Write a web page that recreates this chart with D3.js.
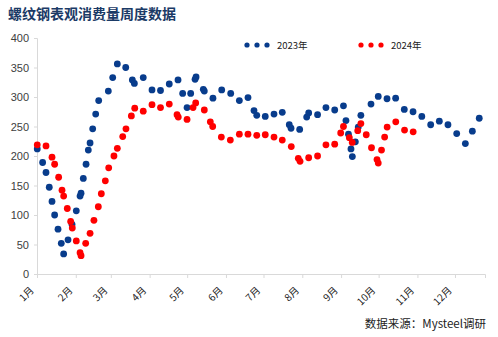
<!DOCTYPE html>
<html><head><meta charset="utf-8">
<script src="https://cdn.jsdelivr.net/npm/d3@7"></script>
<style>
body{margin:0;background:#fff;}
svg{display:block;}
</style></head>
<body>
<svg id="chart" width="498" height="337"></svg>
<script>
// ---- data (x = day offset from Jan 1, y = weekly apparent consumption, 万吨) ----
const title = "螺纹钢表观消费量周度数据";
const source = "数据来源：Mysteel调研";
const seriesNames = ["2023年", "2024年"];
const monthLabels = ["1月","2月","3月","4月","5月","6月","7月","8月","9月","10月","11月","12月"];
const yTicks = [0,50,100,150,200,250,300,350,400];

const day2023 = [0.2,4.5,7.2,9.8,12,14.1,16.8,19.4,21.3,24.8,28,31.4,34.4,35.2,37,39.2,41,42.4,44.5,46.9,
  49.3,57,60.5,64.2,70.9,76.2,77.8,84.9,91.9,98.7,105.7,112.7,116.4,119.9,122.8,126.3,127.1,132.9,133.7,140.6,
  147.6,154.8,161.7,168.6,173.4,175.6,182.4,189.4,196,201.6,203,209.9,215.5,217.1,224.2,230.9,237.9,244.9,246.9,248.9,
  250.9,252,254.4,256.7,258.8,266.9,272.7,279.7,286.6,293.5,300.5,307.5,314.6,321.5,328.4,335.4,342.3,347.9,353.4];
const val2023 = [212,189,172,147,123,100,76,52,34,58,84,107,132,137,162,186,210,222,246,271,
  294,310,333,356,350,329,323,333,312,311,322,329,306,282,306,330,334,313,310,298,
  312,306,294,299,277,269,267,271,274,253,247,245,266,273,270,282,278,285,260,237,
  212,199,224,249,269,288,301,297,298,279,275,267,253,259,253,238,221,242,264];

const day2024 = [0.2,7.2,12,14.1,17.3,20,21.3,24.2,26.9,28.2,31.4,34.4,35.2,38.9,42.4,45.5,49,51.4,54.6,57.3,
  61.5,64.2,68.5,71.1,75.4,78.1,84.9,91.9,98.7,105.7,111.9,112.9,119.9,124.7,126.8,133.7,138.5,140.4,147.3,154.5,
  161.7,168.6,175.6,182.4,189.4,196,203.2,208.8,210.2,217.1,224.2,230.9,237.9,242.7,244.9,249.6,251.9,256.3,258.8,263.1,
  267.3,271.7,272.7,275.3,277.8,279.8,286.7,293.7,300.6];
const val2024 = [219,217,198,186,164,142,132,111,89,78,56,36,31,52,69,91,114,136,158,180,
  200,213,233,246,268,281,276,287,282,288,270,266,262,282,290,278,258,250,232,227,
  237,237,235,236,232,227,216,196,191,197,200,219,220,239,250,231,223,243,255,236,
  214,194,188,210,232,249,258,244,241];

const colors = ["#083c8c", "#ff0000"];

// ---- layout ----
const svg = d3.select("#chart");
const mLeft = 37, mRight = 485, mTop = 38, mBottom = 274;
const base = new Date(2023, 0, 1);
const toDate = d => new Date(base.getTime() + d * 864e5);

const x = d3.scaleTime().domain([base, new Date(2023, 11, 25)]).range([mLeft, mRight]);
const y = d3.scaleLinear().domain([0, 400]).range([mBottom, mTop]);

// title
svg.append("text").attr("x", 8).attr("y", 19)
  .attr("font-family", "'Noto Sans CJK SC', sans-serif").attr("font-weight", "bold")
  .attr("font-size", 14).attr("fill", "#1b3a66").text(title);

// y axis
const yAxis = svg.append("g").attr("transform", `translate(${mLeft},0)`)
  .call(d3.axisLeft(y).tickValues(yTicks).tickSize(3).tickPadding(5));
yAxis.select(".domain").attr("stroke", "#d9d9d9");
yAxis.selectAll(".tick line").attr("stroke", "#d9d9d9");
yAxis.selectAll(".tick text").attr("font-family", "'Liberation Sans', Arial, sans-serif")
  .attr("font-size", 11).attr("fill", "#404040");

// x axis
const monthStarts = d3.timeMonth.range(base, new Date(2024, 0, 1));
const xAxis = svg.append("g").attr("transform", `translate(0,${mBottom})`)
  .call(d3.axisBottom(x).tickValues(monthStarts).tickSize(4).tickFormat((d, i) => monthLabels[i]));
xAxis.select(".domain").attr("stroke", "#d9d9d9");
xAxis.selectAll(".tick line").attr("stroke", "#d9d9d9");
xAxis.selectAll(".tick text")
  .attr("font-family", "'Noto Sans CJK SC', sans-serif").attr("font-size", 10).attr("fill", "#222")
  .attr("text-anchor", "end").attr("y", 0).attr("dy", 0)
  .attr("transform", "translate(-3,17) rotate(-45)");

// points
const series = [
  {days: day2023, vals: val2023, color: colors[0]},
  {days: day2024, vals: val2024, color: colors[1]}
];
series.forEach(s => {
  svg.append("g").selectAll("circle")
    .data(s.days.map((d, i) => [d, s.vals[i]]))
    .join("circle")
    .attr("cx", d => x(toDate(d[0])))
    .attr("cy", d => y(d[1]))
    .attr("r", 3.4)
    .attr("fill", s.color);
});

// legend
const legendX = [247, 361];
seriesNames.forEach((name, k) => {
  const g = svg.append("g").attr("transform", `translate(${legendX[k]},45)`);
  [0, 10, 20].forEach(dx => g.append("circle").attr("cx", dx).attr("cy", 0).attr("r", 2.6).attr("fill", colors[k]));
  g.append("text").attr("x", 30).attr("y", 3.5)
    .attr("font-family", "'Noto Sans CJK SC', sans-serif").attr("font-size", 9.5).attr("fill", "#222").text(name);
});

// source
svg.append("text").attr("x", 486).attr("y", 328).attr("text-anchor", "end")
  .attr("font-family", "'Noto Sans CJK SC', sans-serif").attr("font-size", 11.5).attr("fill", "#222")
  .text(source);
</script>
</body></html>
